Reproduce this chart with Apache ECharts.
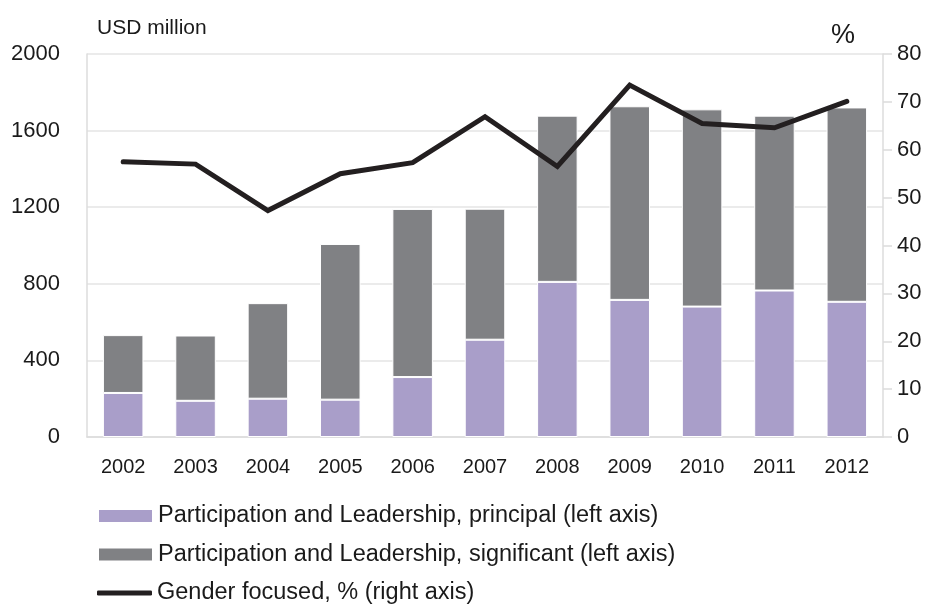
<!DOCTYPE html>
<html>
<head>
<meta charset="utf-8">
<script src="https://cdn.jsdelivr.net/npm/echarts@6/dist/echarts.min.js"></script>
<style>
html,body{margin:0;padding:0;background:#fff;}
#chart{width:933px;height:605px;}
</style>
</head>
<body>
<div id="chart"></div>
<script>
var years = ['2002','2003','2004','2005','2006','2007','2008','2009','2010','2011','2012'];
var principal = [230, 189, 200, 195, 313, 508, 810, 716, 681, 765, 706];
var significant = [302, 341, 499, 813, 878, 684, 868, 1011, 1030, 913, 1015];
var genderFocused = [57.5, 57.0, 47.3, 55.0, 57.3, 66.9, 56.5, 73.5, 65.5, 64.6, 70.1];
var leftTicks = {min: 0, max: 2000, interval: 400};
var rightTicks = {min: 0, max: 80, interval: 10};
var names = ['Participation and Leadership, principal (left axis)',
             'Participation and Leadership, significant (left axis)',
             'Gender focused, % (right axis)'];

var FONT = '"Liberation Sans", Arial, sans-serif';
var TXT = '#1a1a1a';
function legendRow(i, top, icon, h) {
  return {
    orient: 'vertical', left: 92, top: top,
    itemWidth: 55, itemHeight: h, itemGap: 0,
    selectedMode: false,
    textStyle: {fontFamily: FONT, fontSize: 23.5, lineHeight: 24, color: TXT},
    data: [{name: names[i], icon: icon}]
  };
}
var chart = echarts.init(document.getElementById('chart'), null, {renderer: 'canvas'});
chart.setOption({
  animation: false,
  backgroundColor: '#ffffff',
  textStyle: {fontFamily: FONT, color: TXT},
  grid: {left: 87, right: 50, top: 54, bottom: 168, containLabel: false},
  graphic: [
    {type: 'text', left: 97, top: 18, style: {text: 'USD million', font: '21px ' + FONT, fill: TXT}},
    {type: 'text', left: 831, top: 22, style: {text: '%', font: '27px ' + FONT, fill: TXT}}
  ],
  legend: [
    legendRow(0, 499, 'rect', 14),
    legendRow(1, 537.5, 'rect', 14),
    legendRow(2, 576, 'roundRect', 5)
  ],
  xAxis: {
    type: 'category',
    data: years,
    axisLine: {lineStyle: {color: '#dcdcdc', width: 1.5}},
    axisTick: {show: false},
    axisLabel: {fontFamily: FONT, fontSize: 20, color: TXT, margin: 20}
  },
  yAxis: [
    {
      type: 'value',
      min: leftTicks.min, max: leftTicks.max, interval: leftTicks.interval,
      axisLine: {show: true, lineStyle: {color: '#dcdcdc', width: 1.5}},
      axisTick: {show: false},
      splitLine: {show: true, lineStyle: {color: '#e4e4e4', width: 1.5}},
      axisLabel: {fontFamily: FONT, fontSize: 22, color: TXT, margin: 27,
                  formatter: function (v) { return String(v); }}
    },
    {
      type: 'value',
      position: 'right',
      min: rightTicks.min, max: rightTicks.max, interval: rightTicks.interval,
      axisLine: {show: true, lineStyle: {color: '#dcdcdc', width: 1.5}},
      axisTick: {show: true, inside: false, length: 9, lineStyle: {color: '#dcdcdc', width: 1.5}},
      splitLine: {show: false},
      axisLabel: {fontFamily: FONT, fontSize: 22, color: TXT, margin: 14}
    }
  ],
  series: [
    {
      name: names[0], type: 'bar', stack: 'pl', yAxisIndex: 0,
      barWidth: '56%',
      itemStyle: {color: '#a99ec9', borderColor: '#ffffff', borderWidth: 1},
      data: principal
    },
    {
      name: names[1], type: 'bar', stack: 'pl', yAxisIndex: 0,
      barWidth: '56%',
      itemStyle: {color: '#808184', borderColor: '#ffffff', borderWidth: 1},
      data: significant
    },
    {
      name: names[2], type: 'line', yAxisIndex: 1,
      symbol: 'none', showSymbol: false,
      lineStyle: {color: '#231f20', width: 5, cap: 'round', join: 'miter'},
      itemStyle: {color: '#231f20'},
      data: genderFocused,
      z: 5
    }
  ]
});
</script>
</body>
</html>
